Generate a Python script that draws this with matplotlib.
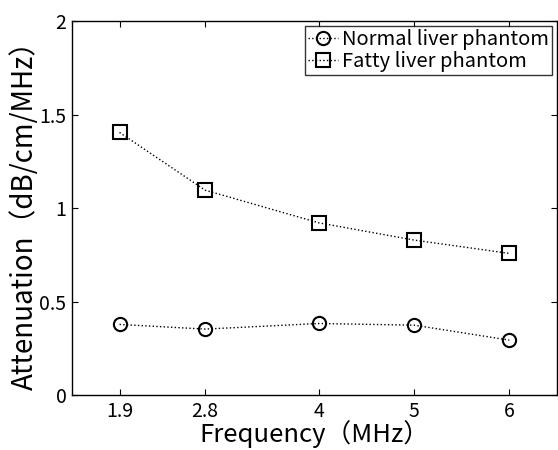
import matplotlib
matplotlib.use("Agg")
import matplotlib.pyplot as plt

plt.rcParams['font.family'] = ['Noto Sans CJK JP', 'DejaVu Sans']

freq = [1.9, 2.8, 4, 5, 6]
freq_labels = ["1.9", "2.8", "4", "5", "6"]
normal = [0.378, 0.353, 0.383, 0.374, 0.294]
fatty = [1.405, 1.096, 0.921, 0.829, 0.758]

fig = plt.figure(figsize=(5.58, 4.5), dpi=100)
ax = fig.add_axes([0.129, 0.122, 0.869, 0.831])

ax.plot(freq, normal, ":", color="black", lw=1, marker="o", ms=9.5,
        mfc="none", mec="black", mew=1.5, label="Normal liver phantom")
ax.plot(freq, fatty, ":", color="black", lw=1, marker="s", ms=9.5,
        mfc="none", mec="black", mew=1.5, label="Fatty liver phantom")

ax.set_xlim(1.4, 6.5)
ax.set_ylim(0, 2)
ax.set_xticks(freq)
ax.set_xticklabels(freq_labels)
ax.set_yticks([0, 0.5, 1, 1.5, 2])
ax.set_yticklabels(["0", "0.5", "1", "1.5", "2"])
ax.tick_params(direction="in", top=True, right=True, labelsize=14, length=4, pad=4)
for s in ax.spines.values():
    s.set_linewidth(1)

ax.set_xlabel("Frequency（MHz）", fontsize=18.5, labelpad=-1)
ax.set_ylabel("Attenuation（dB/cm/MHz）", fontsize=20, labelpad=0)

leg = ax.legend(loc="upper right", fontsize=14.5, frameon=True, fancybox=False,
                edgecolor="black", handlelength=1.5, handletextpad=0.2,
                borderpad=0.15, labelspacing=0.05, borderaxespad=0.25)
leg.get_frame().set_linewidth(1)

fig.savefig("out.png", dpi=100)
